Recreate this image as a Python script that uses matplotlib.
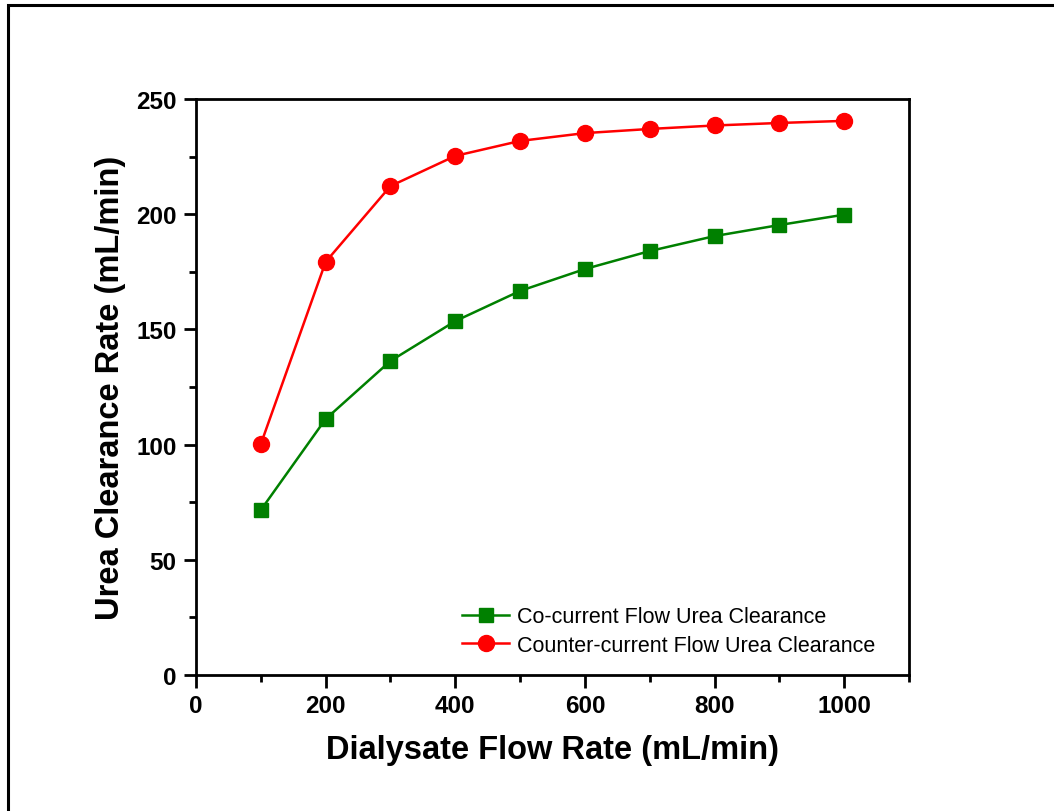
import matplotlib
matplotlib.use("Agg")
import matplotlib.pyplot as plt
from matplotlib.ticker import MultipleLocator
from matplotlib.patches import Rectangle

plt.rcParams['font.family'] = ['Liberation Sans', 'DejaVu Sans']

# Dialysate flow rate (mL/min)
flow_rate = [100, 200, 300, 400, 500, 600, 700, 800, 900, 1000]
# Urea clearance (mL/min)
co_current = [71.6, 111.1, 136.3, 153.6, 166.7, 176.2, 184.0, 190.5, 195.3, 199.8]
counter_current = [100.2, 179.3, 212.2, 225.3, 231.8, 235.2, 237.0, 238.5, 239.6, 240.5]

fig = plt.figure(figsize=(10.54, 8.12), dpi=100)
ax = fig.add_axes([196/1054, 1 - 676/812, (909-196)/1054, (676-100)/812])

# Frame around the whole figure
fig.patches.append(Rectangle((8/1054, -0.05), 1.1, 1 - 6/812 + 0.05,
                             transform=fig.transFigure, fill=False,
                             edgecolor='black', linewidth=2.2))

ax.plot(flow_rate, co_current, color='#008000', linewidth=1.8, marker='s',
        markersize=9.5, label='Co-current Flow Urea Clearance')
ax.plot(flow_rate, counter_current, color='#ff0000', linewidth=1.8, marker='o',
        markersize=11.5, label='Counter-current Flow Urea Clearance')

ax.set_xlim(0, 1100)
ax.set_ylim(0, 250)
ax.xaxis.set_major_locator(MultipleLocator(200))
ax.xaxis.set_minor_locator(MultipleLocator(100))
ax.yaxis.set_major_locator(MultipleLocator(50))
ax.yaxis.set_minor_locator(MultipleLocator(25))

for s in ax.spines.values():
    s.set_linewidth(2.0)
ax.tick_params(which='major', direction='out', length=9, width=2,
               labelsize=17.5, pad=5, top=False, right=False)
ax.tick_params(which='minor', direction='out', length=5, width=2,
               top=False, right=False)
for lbl in ax.get_xticklabels() + ax.get_yticklabels():
    lbl.set_fontweight('bold')

ax.set_xlabel('Dialysate Flow Rate (mL/min)', fontsize=23.5, fontweight='bold', labelpad=12)
ax.set_ylabel('Urea Clearance Rate (mL/min)', fontsize=23.5, fontweight='bold', labelpad=7.5)

ax.legend(loc='lower left', bbox_to_anchor=(0.373, 0.033), frameon=False,
          fontsize=15.5, handlelength=2.2, handletextpad=0.37, labelspacing=0.36,
          borderaxespad=0, borderpad=0)

fig.savefig('out.png', dpi=100, facecolor='white')
